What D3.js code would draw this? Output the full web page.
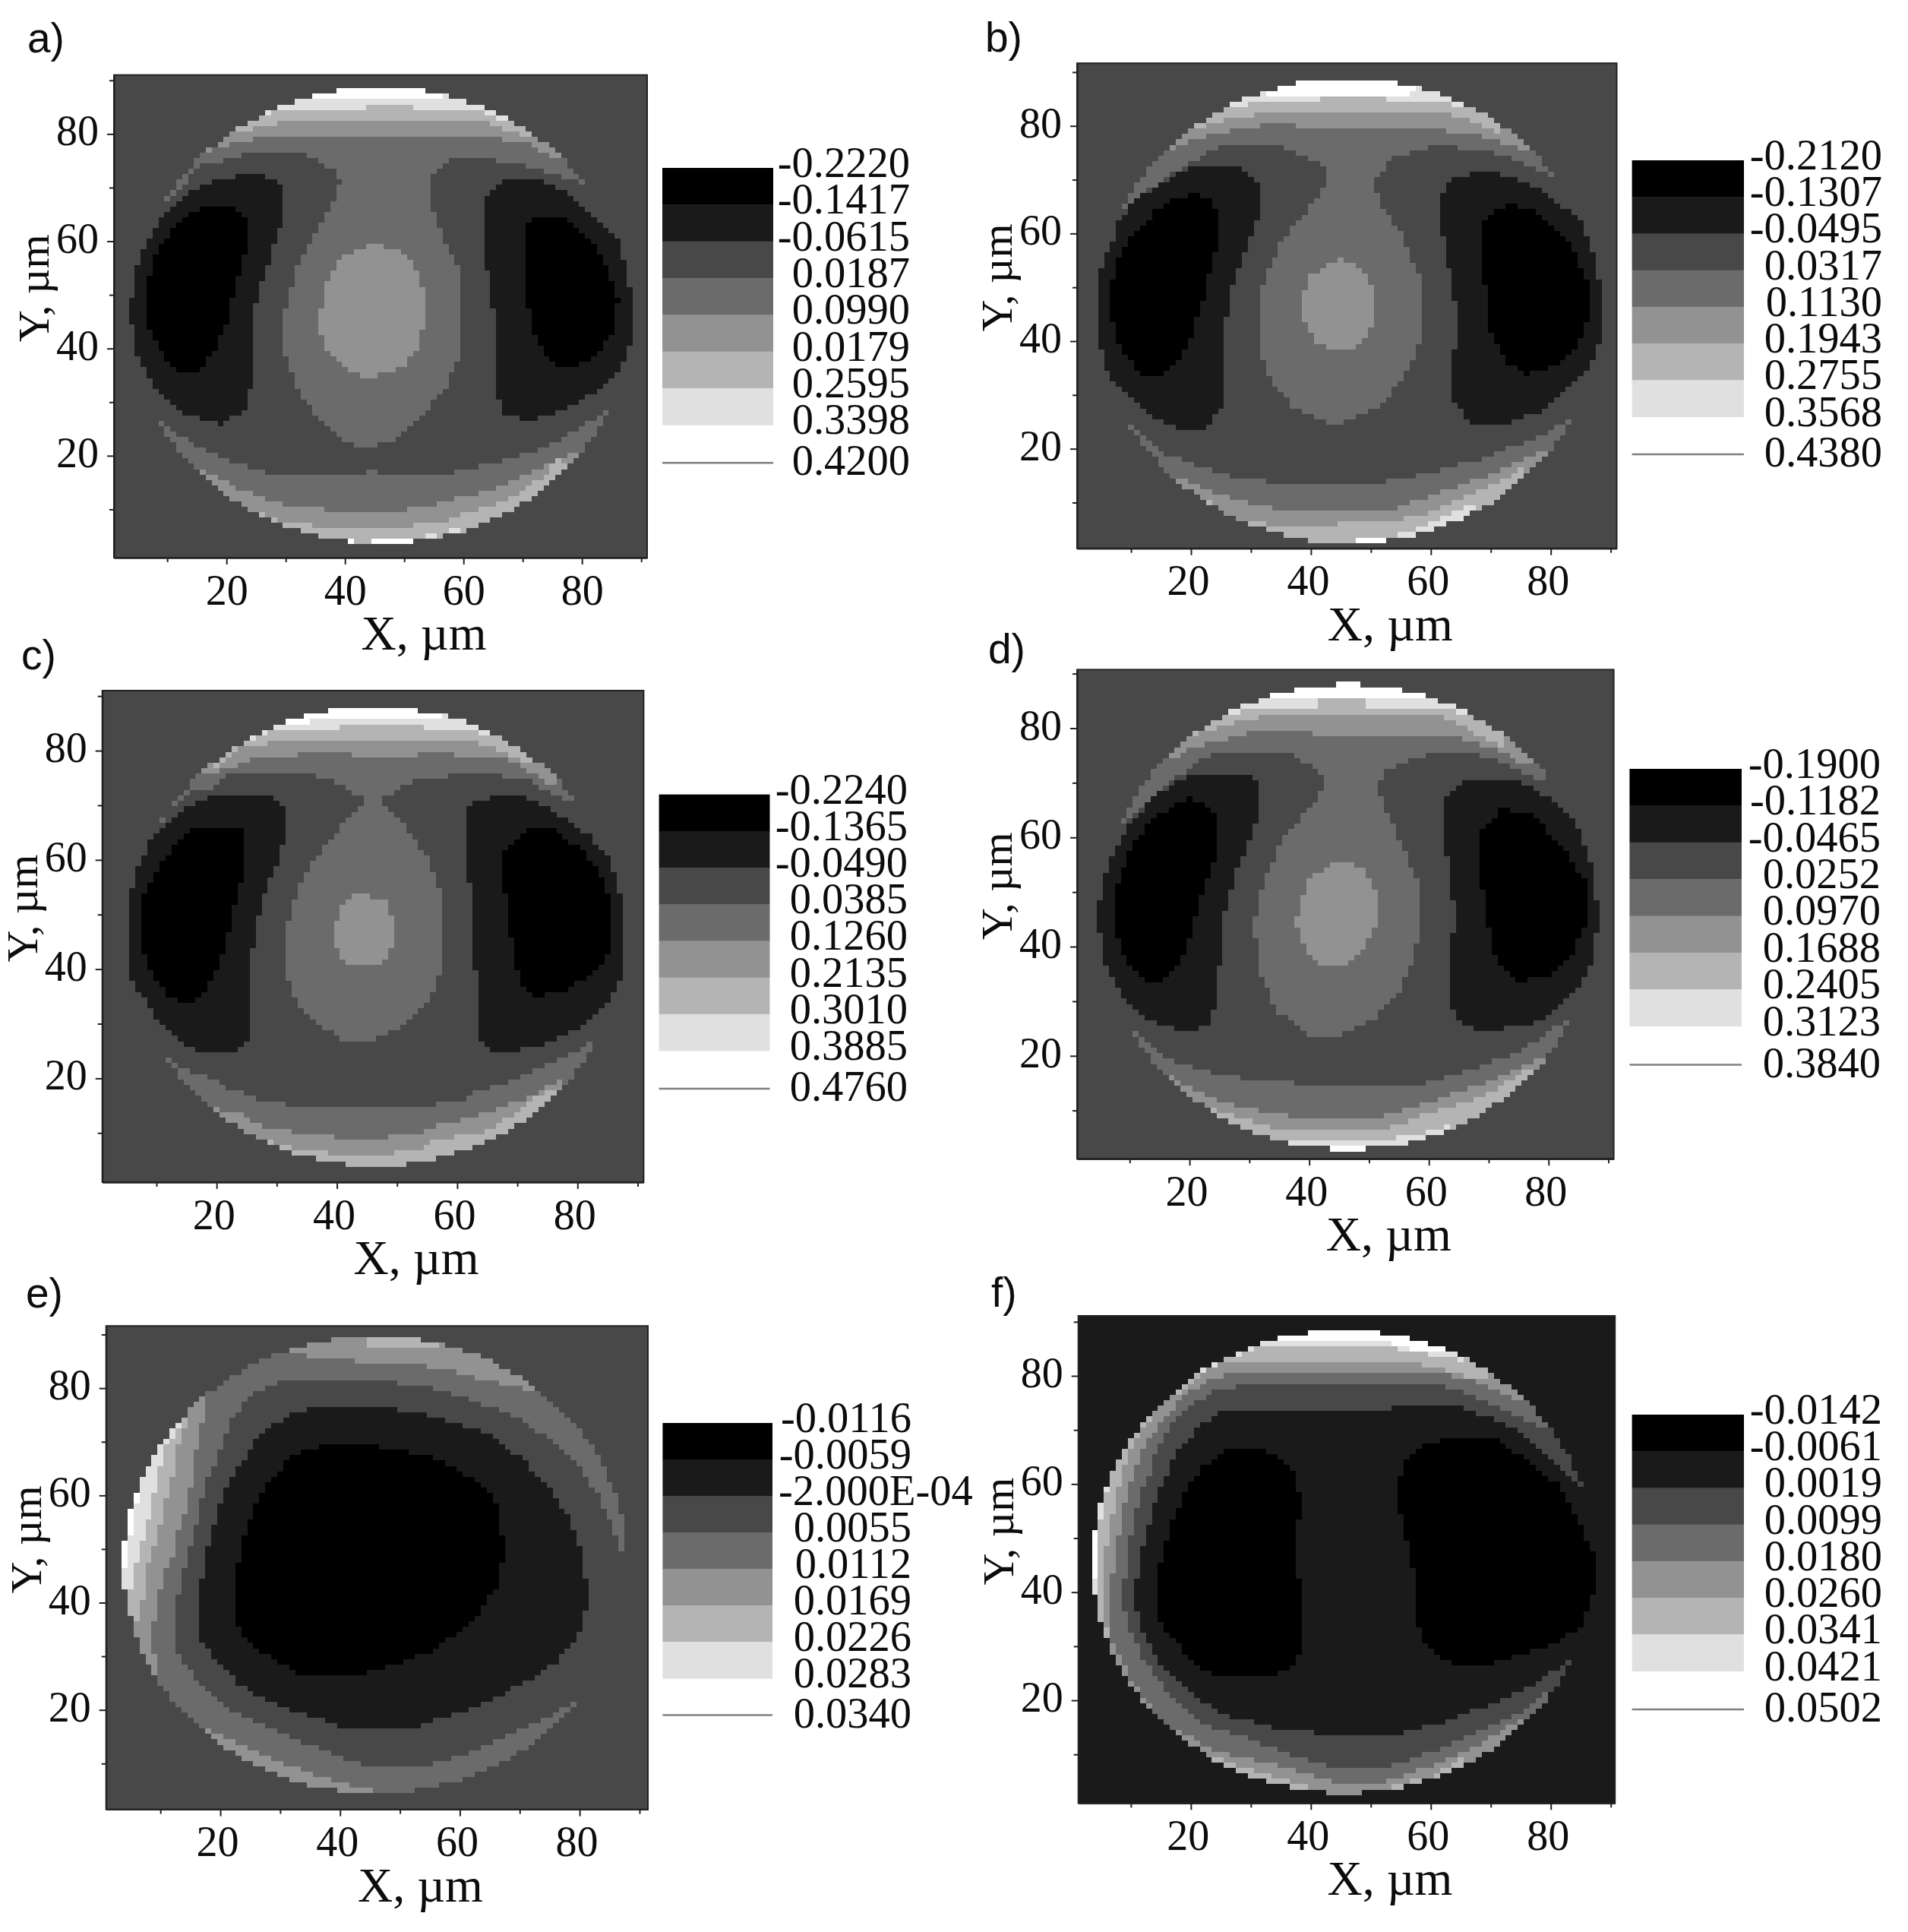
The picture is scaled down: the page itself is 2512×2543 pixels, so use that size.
<!DOCTYPE html>
<html>
<head>
<meta charset="utf-8">
<script src="https://cdn.jsdelivr.net/npm/d3@7"></script>
<style>
  body { margin: 0; background: white; }
  svg { filter: blur(0.6px); }
  text { font-family: "Liberation Serif", serif; fill: #0c0c0c; }
  .panel-label { font-family: "Liberation Sans", sans-serif; font-size: 55px; }
</style>
</head>
<body>
<div id="svgcontainer"></div>
<script>
// grey of each contour level, darkest first
var levelColors = ["#000000", "#1a1a1a", "#484848", "#6b6b6b", "#929292", "#b4b4b4", "#e0e0e0", "#ffffff"];

var panelLabels = ["a)", "b)", "c)", "d)", "e)", "f)"];
var xTicks = [20, 40, 60, 80];
var yTicks = [20, 40, 60, 80];
var minorTicks = [10, 30, 50, 70, 90];

var legendA = ["-0.2220", "-0.1417", "-0.0615", "0.0187", "0.0990", "0.0179", "0.2595", "0.3398", "0.4200"];
var legendB = ["-0.2120", "-0.1307", "-0.0495", "0.0317", "0.1130", "0.1943", "0.2755", "0.3568", "0.4380"];
var legendC = ["-0.2240", "-0.1365", "-0.0490", "0.0385", "0.1260", "0.2135", "0.3010", "0.3885", "0.4760"];
var legendD = ["-0.1900", "-0.1182", "-0.0465", "0.0252", "0.0970", "0.1688", "0.2405", "0.3123", "0.3840"];
var legendE = ["-0.0116", "-0.0059", "-2.000E-04", "0.0055", "0.0112", "0.0169", "0.0226", "0.0283", "0.0340"];
var legendF = ["-0.0142", "-0.0061", "0.0019", "0.0099", "0.0180", "0.0260", "0.0341", "0.0421", "0.0502"];

// sample disk of each panel: [cx, cy, rx, ry] in um
var diskA = [46.05, 46.1, 42.35, 42.5];
var diskB = [46.35, 45.7, 42.05, 43.2];
var diskC = [46.45, 46, 41.35, 42];
var diskD = [46.5, 45.45, 41.6, 42.6];
var diskE = [45.9, 47.1, 42.1, 42.6];
var diskF = [45.6, 45.65, 42, 42.75];

// contour regions, um, painted in this order: [level, outline]
// outlines may run past the disk, cells are cut at the disk edge
var bandsA = [
  [3, [[8.7,65.7],[15.5,73.9],[24.9,76.6],[32.1,76.6],[38.6,73.1],[39.3,70.8],[37.1,65.3],[33.5,59.1],[31.4,53.7],[29.6,45.9],[29.6,40.5],[31.4,33.5],[35,27.3],[40,22.6],[43.6,21.4],[47.9,22.6],[53,27.3],[56.9,32.7],[59.5,38.9],[59.5,54.5],[56.6,60.7],[54.4,67.7],[54.4,72.3],[58,75],[63.1,75.6],[71,73.9],[80.3,70.8],[90,78],[90,95],[2,95],[2,70]]],
  [4, [[15.5,76.2],[20.6,78.2],[27.8,79.7],[43.6,79.5],[63.1,79.7],[71,78.2],[76,75],[85,85],[85,95],[5,95],[5,85]]],
  [5, [[20.2,80.1],[27.1,81.7],[32.5,82.8],[62.3,82.8],[66.7,80.9],[71,79.7],[80,90],[80,95],[10,95],[10,90]]],
  [6, [[23.5,82.4],[27.8,84],[32.5,84.6],[43.5,84.6],[43.5,85.5],[51.5,85.5],[51.5,84.6],[62.3,84.6],[66.7,82.4],[72,92],[72,95],[15,95],[15,92]]],
  [7, [[31.4,86.1],[56.2,86.3],[60,92],[60,95],[28,95],[28,92]]],
  [3, [[8.7,26.5],[15.4,21.4],[19.5,19.5],[22.5,18.3],[26.4,17.3],[26.4,16.6],[43.3,16.6],[43.3,17.5],[45.4,17.5],[45.4,16.6],[58.5,16.6],[58.5,17.3],[64.2,18.3],[67.4,19.5],[70.4,20.4],[73.3,21.4],[75.4,22.5],[78.6,24.4],[84.3,28.4],[92,20],[92,-5],[0,-5],[0,20]]],
  [4, [[15.6,17.3],[19.5,15.7],[21.6,13.8],[24.6,13.2],[27.5,11.7],[30.5,10.5],[36.5,10.5],[36.5,9.5],[50.4,9.5],[50.4,10.5],[55.2,10.5],[55.2,11.4],[60.3,12.4],[63.5,13.3],[66.2,14.5],[70.4,16.4],[73.3,18],[76.3,19.5],[79,20.6],[88,12],[88,-5],[5,-5],[5,12]]],
  [5, [[23.7,10],[30.5,7.4],[34.6,7.4],[34.6,6.5],[51.4,6.5],[51.4,7.4],[57.3,7.4],[57.3,8.4],[60.3,9.3],[63.5,10.4],[66.2,11.4],[68.5,12.2],[73.3,16.2],[76.3,19.5],[85,12],[85,-5],[15,-5]]],
  [7, [[45,4.5],[52.6,4.5],[52.6,-5],[45,-5]]],
  [7, [[39.5,4.5],[41.6,4.5],[41.6,-5],[39.5,-5]]],
  [6, [[53.6,5.5],[55.6,5.5],[55.6,4.5],[53.6,4.5]]],
  [6, [[58,6.5],[60,6.5],[60,5.5],[58,5.5]]],
  [4, [[45.4,59.5],[50.1,57.6],[52.6,53.7],[53.6,47.5],[52.6,40.5],[50.1,36.6],[44.3,34.4],[39.3,36.6],[36.4,40.5],[35.6,45.1],[36.4,50.6],[38.6,56],[41.5,58.3]]],
  [1, [[9.4,65.3],[13.4,68.8],[18.4,71.6],[24.9,72.5],[28.5,71.6],[29.6,68.4],[29.6,64.6],[27.8,58.3],[25.6,51.3],[24.2,44.4],[24.5,36.6],[23.5,28.8],[19.1,25.7],[12.7,28],[7.6,32.7],[4.7,39.7],[3.7,46.7],[4.7,54.5],[6.5,59.9]]],
  [0, [[18.4,66.9],[21.3,66.5],[23.8,63.8],[23.1,58.3],[21.7,52.1],[19.9,44.4],[17.7,38.9],[15.2,35.8],[11.9,35.7],[9.1,38.9],[6.5,45.1],[6.5,52.1],[8.3,58.3],[11.2,62.6],[14.8,65.7]]],
  [1, [[63.4,68.4],[67.4,71.6],[72.4,71.6],[78.2,68.4],[83.2,63.7],[86.1,60.2],[87.5,55.2],[88.4,49],[88.4,39.6],[85.4,35],[81.1,31.1],[75.4,28],[70.4,26.5],[66.7,28],[65.6,32.7],[65.2,46.7],[63.4,58.3]]],
  [0, [[70.3,62.6],[72.4,64.6],[77.5,64.2],[81.1,60.7],[83.9,56],[86.1,49],[85.4,43.6],[81.8,38.1],[77.5,36.2],[73.9,38.1],[71.7,42.8],[70.3,52.1]]]
];

var bandsB = [
  [3, [[8,63.7],[15.5,70.3],[24.7,76.4],[34.7,76.5],[40.4,73.7],[42.5,71.5],[42.5,68.8],[39,63.5],[35.4,59],[33.3,54.4],[31.7,49.1],[31.5,37.8],[33.3,32.5],[36.8,28],[42.5,24.9],[45.3,24.9],[51,27.6],[55.3,32.5],[58.3,40.1],[58.3,51.4],[55.3,59.7],[51.7,65],[50.5,69.6],[53.5,74.1],[60.3,76.4],[68.8,75.6],[75.2,73.3],[80.2,70.5],[90,78],[90,95],[2,95],[2,70]]],
  [4, [[15.5,74.9],[20.5,77.5],[25.2,78.6],[33.3,80.5],[39.7,79.8],[53.5,79.8],[66.7,78.6],[71.6,77.1],[75.9,75.2],[85,85],[85,95],[5,95],[5,85]]],
  [5, [[19.4,79],[25.2,80.9],[33.3,82.6],[62.4,82.6],[66.7,80.8],[71.6,78.6],[80,90],[80,95],[10,95],[10,90]]],
  [6, [[23.3,82],[27.6,83.6],[33.3,84.7],[41.4,84.7],[41.4,85.8],[52.5,85.8],[52.5,84.7],[62.4,84.7],[66.7,82.8],[72,92],[72,95],[15,95],[15,92]]],
  [7, [[32.6,85.8],[56.4,85.8],[60,92],[60,95],[28,95],[28,92]]],
  [3, [[8.4,25.8],[15.5,18.9],[27.6,14.7],[34.7,13.6],[51,13.6],[59.6,15.5],[68.8,18.1],[78.8,22.7],[83.4,25.8],[92,18],[92,-5],[0,-5],[0,18]]],
  [4, [[15.5,15.6],[23.3,12.2],[27.6,10.6],[34.7,8.5],[53.5,8.5],[61.7,12.1],[71.6,15.9],[79.1,20],[88,12],[88,-5],[5,-5],[5,12]]],
  [5, [[20.5,11.9],[27.6,6.8],[35.4,5.6],[53.5,6.4],[58.9,7.9],[68.1,12.1],[75.2,16.2],[85,10],[85,-5],[10,-5],[10,10]]],
  [6, [[47.5,3.4],[53.5,3.8],[58.9,5.6],[66.7,9.4],[75,5],[75,-5],[47.5,-5]]],
  [7, [[47.5,3.4],[52.5,3.4],[52.5,-5],[47.5,-5]]],
  [4, [[45.3,55.2],[48.5,53.3],[50.5,49.1],[50.5,43.1],[48.2,39.3],[44.6,37.9],[41.4,39.3],[39.3,42.3],[38.4,46.1],[39.3,51.4],[41.8,53.7]]],
  [1, [[8,62.8],[11.9,67.3],[20.5,72.6],[28.3,72.6],[31.5,68.8],[31.5,64.3],[30.4,60.5],[27.9,53.7],[26.2,47.6],[25.4,36.3],[25.4,28],[22.3,23.8],[17.6,23.8],[11.9,27.2],[7,32.5],[5.2,37],[4.3,41.6],[4.3,51.4],[5.5,55.2],[7.3,59.7]]],
  [0, [[20.5,67.3],[23,66.2],[24.6,63.5],[24.4,58.2],[22.3,49.1],[20.5,42.3],[18.3,36.3],[14.8,33.6],[11.9,34],[9.1,37],[7.3,41.6],[6.3,47.6],[7.3,53.7],[9.8,59],[14.1,64.3],[17.6,66.5]]],
  [1, [[61.6,67.3],[63.8,70.3],[68.1,71.5],[73.8,70.7],[79.5,67.3],[85.2,62],[87.3,55.9],[88.4,51.4],[88.4,39.3],[85.2,33.3],[78.8,27.2],[73.1,24.9],[66.7,24.9],[63.7,28.7],[63.5,34.8],[64.5,43.1],[63.5,51.4],[61.6,61.2]]],
  [0, [[69.5,63.5],[73.1,65.4],[77.3,63.9],[83,58.2],[86.2,51.4],[86.6,44.6],[84.4,39.3],[80.9,35.5],[75.9,33.6],[72.4,36.3],[69.9,41.6],[69.2,49.1],[68.1,55.9],[68.4,61.2]]]
];

var bandsC = [
  [3, [[8.4,64],[14,71.1],[15.2,72],[17.6,73],[19.9,73.2],[21.9,75.3],[24.8,76.3],[36.3,76.3],[36.3,75.3],[39.5,75.3],[39.5,74.2],[41.5,73.2],[43.3,72],[45.1,70.7],[42.1,67.8],[38.6,63.2],[35,57.9],[33.2,53.3],[31.5,47.2],[31.5,39.5],[33.6,33.4],[37.1,29.6],[41.4,27],[46.4,27],[51.3,29.6],[55.6,35],[57.3,39.3],[57.3,54],[54.9,60.9],[51.3,66.3],[47.4,70.7],[48.3,71.8],[50.3,73.2],[52.3,74.2],[54.4,75.3],[58.2,75.3],[58.2,76.3],[67.9,76.3],[67.9,75.3],[71.7,75.3],[73.8,73.2],[75.8,72.2],[79,70.7],[90,78],[90,95],[2,95],[2,70]]],
  [4, [[15.8,75.1],[19.9,76],[23.7,77.2],[26.6,79],[33.4,79],[33.4,80.2],[42.4,80.2],[42.4,79.2],[53.2,79.2],[53.2,80.2],[59.1,80.2],[59.1,79.2],[67,79.2],[70.6,77.2],[73.8,75.1],[75.8,73.7],[85,85],[85,95],[5,95],[5,85]]],
  [5, [[19.9,77.2],[21.5,78.7],[23.7,80.2],[26.6,81.2],[30.7,81.4],[30.7,82.1],[63.2,82.1],[63.2,81.4],[67,80.2],[70.6,78.3],[72.6,77.2],[82,85],[82,95],[8,95],[8,85]]],
  [6, [[25.7,82.1],[27.8,83.2],[32.5,83.9],[40.2,83.9],[40.2,84.8],[54.4,84.8],[54.4,83.9],[62.3,83.9],[65.9,82.6],[72,90],[72,95],[18,95],[18,90]]],
  [7, [[31.6,85],[34.3,85],[36.3,85.84],[57.3,85.84],[62,90],[62,95],[25,95],[25,90]]],
  [3, [[9.5,26.6],[14,21.8],[17.2,20.8],[20.8,19],[22.8,17.8],[26.6,16.9],[26.6,15.8],[31.6,15.8],[31.6,14.8],[56.2,14.8],[56.2,15.8],[61.1,15.8],[61.1,16.9],[64.1,17.8],[67,18.8],[70,19.9],[73.8,21.8],[75.8,22.7],[82.5,26.7],[92,18],[92,-5],[0,-5],[0,18]]],
  [4, [[15.8,16.9],[20.8,13.9],[23.7,13.9],[25.7,11.8],[28.7,11.1],[32.5,10.2],[39.5,10.2],[39.5,9.3],[48.3,9.3],[48.3,10.2],[55,10.2],[55,11],[59.1,11.9],[62.3,13],[65.2,13.9],[70,15.7],[74,17.8],[77.1,19.7],[88,12],[88,-5],[5,-5],[5,12]]],
  [5, [[27.6,9],[32.5,7.3],[38.6,7.3],[38.6,6.2],[49.2,6.2],[49.2,7.2],[55,7.2],[55,8.1],[59.1,9.3],[65.2,10.4],[67,11.8],[70,13.7],[74.9,18],[85,12],[85,-5],[20,-5]]],
  [4, [[44.9,53.4],[48.1,52.5],[49.3,48.7],[49.3,44.1],[47.1,40.7],[41.4,40.7],[40.3,42.6],[39.5,46.4],[40.7,51],[42.5,53.3]]],
  [1, [[8.8,64],[13.8,68.6],[18,71.2],[22.3,72.2],[29.3,72],[31.1,70.1],[31.5,64.7],[30.4,60.2],[27.9,53.3],[26.5,47.2],[25.8,41.8],[25.5,27.3],[23,24.9],[17.3,24.9],[13.8,26.6],[9.5,31.9],[6,38],[5.1,40.3],[5.1,51.8],[6,56.3],[8.4,61.7]]],
  [0, [[16.6,66.3],[23.3,66.3],[25,64],[24.7,57.9],[22.6,50.2],[21.2,43.4],[18.7,36.5],[15.2,33.4],[12,35],[9.2,39.5],[7,45.7],[8.1,54.4],[11.3,60.2],[13.8,64]]],
  [1, [[61.2,67.8],[62.3,70.1],[66.9,72],[69.7,72],[75.4,69.3],[81.8,64.7],[85.3,60.2],[87.8,51],[87.8,39.5],[84.6,33.4],[79.7,28.9],[74,26.2],[69,24.9],[64.8,25.4],[63.4,27.3],[63,39.5],[62.3,54.8],[61.2,59.4]]],
  [0, [[69,63.2],[71.9,65.5],[76.1,65.5],[81.1,61.7],[84.6,55.6],[85.7,51],[85.7,44.9],[83.9,40.3],[78.9,36.5],[73.3,34.8],[71.2,36.5],[69.4,41.8],[68.7,48.7],[67.8,55.6],[68,61.7]]]
];

var bandsD = [
  [3, [[6.5,59.5],[15.7,69.6],[23.9,75.5],[36.4,75.7],[40.7,72.5],[42.7,70.7],[42.7,69.2],[39.2,64.4],[35.7,59.9],[33.9,55.4],[31.8,50.2],[30.7,44.2],[31.8,35.3],[34.3,28.6],[39.6,23.7],[45.3,23.7],[50.6,26.3],[54.9,31.6],[57.4,37.5],[58.3,42],[58.3,51.7],[55.6,58.4],[52.4,65.8],[51.7,69.6],[52.8,72.2],[57.8,74.8],[64.2,75.7],[69.9,74.8],[74.9,72.5],[79.7,69.9],[90,78],[90,95],[0,95],[0,65]]],
  [4, [[16.4,74],[20.7,76.6],[26.4,78.1],[32.1,80],[40.7,80],[40.7,78.7],[64.2,78.7],[67,77.4],[72.7,75.5],[76.3,72.9],[85,85],[85,95],[5,95],[5,85]]],
  [5, [[20,78.1],[25.7,80.7],[32.1,82.1],[62,82.1],[66.3,80],[72,76.6],[80,90],[80,95],[10,95],[10,90]]],
  [6, [[25.7,82.6],[32.1,83.4],[41.7,83.4],[41.7,85.1],[49.6,85.1],[49.6,83.9],[62,83.9],[67,82],[72,92],[72,95],[15,95],[15,92]]],
  [7, [[32.1,85.1],[35.7,86],[56.3,86],[60.6,85.2],[65,90],[65,95],[25,95],[25,90]]],
  [3, [[9.3,25.8],[15,20.4],[21.4,17.4],[28.9,15.9],[38.9,14.8],[58.5,14.8],[69.2,18.2],[75.6,21.1],[82.7,26.5],[92,18],[92,-5],[0,-5],[0,18]]],
  [4, [[15,17.4],[20.7,13.7],[27.8,10.7],[37.8,8.8],[51.4,8.8],[58.5,11.1],[69.2,14.8],[79.2,19.6],[88,12],[88,-5],[5,-5],[5,12]]],
  [5, [[21.4,11.4],[27.8,8.8],[36.7,6.2],[52.4,6.6],[59.2,9.2],[69.2,12.5],[77,17.8],[85,10],[85,-5],[10,-5],[10,10]]],
  [6, [[33,5],[38,4.6],[53,4.8],[58,5.5],[63,7.3],[72,0],[72,-5],[25,-5]]],
  [7, [[40,3.8],[52.4,3.8],[52.4,-5],[40,-5]]],
  [4, [[45.7,55.8],[49.2,53.9],[51.4,49.4],[51.4,44.2],[49.2,39.8],[46.4,36.9],[42.1,36.9],[40,39],[38.5,42],[37.7,44.6],[38.7,48.7],[40,52.1],[42.8,54.7]]],
  [1, [[10,62.9],[15,68.1],[20.7,71.8],[29.3,71.8],[31.8,69.2],[31.8,65.1],[30,59.1],[27.8,53.9],[26.4,48.7],[25.3,41.3],[24.6,30.8],[23.6,26.3],[21.4,25],[17.1,25],[12.2,27.1],[7.9,32.3],[5.7,37.5],[4.9,40.5],[4.9,50.2],[6.5,55.4]]],
  [0, [[20,67.2],[22.9,65.8],[24.8,62.9],[24.3,56.2],[22.5,51.7],[20.7,44.2],[18.6,37.5],[15.7,33.8],[12.9,34],[10,36.8],[7.9,41.3],[7.9,50.9],[10,57.6],[13.6,62.9],[17.1,65.8]]],
  [1, [[62.6,66.6],[65.6,70.7],[74.2,70.7],[79.9,67.3],[85.6,61.4],[88.1,51.7],[88.1,39],[84.9,32.3],[78.4,26.3],[72,24.9],[68.8,24.1],[64.2,27.1],[63.5,32.3],[64.2,47.2],[63.5,53.2],[62.6,58.4]]],
  [0, [[69.5,62.1],[72,65.1],[77,64.7],[82.7,57.6],[86.3,51.7],[86.3,44.2],[83.4,37.5],[79.2,34.2],[74.2,33.8],[71.3,37.5],[70.3,41.3],[69.2,49.4],[68.3,54.7],[68.3,59.9]]]
];

var bandsE = [
  [3, [[87.8,46.4],[86,52.6],[83.6,58.9],[80.7,64.3],[75.7,69.7],[70,74.4],[61.5,77.9],[54.4,80.5],[42.3,81.7],[31.6,81.7],[25.7,79.3],[22.5,75.3],[20.8,71.5],[19.8,67.8],[17.9,63],[16.8,58.3],[15.8,53.6],[13.9,46.5],[12.7,40],[12.7,30.9],[16.7,24.7],[21.6,20],[28.8,16.1],[38,12.2],[44.4,9.5],[54.4,9.5],[61.5,11.9],[68.6,15.4],[75.7,19.2],[80,22.3],[92,10],[92,-5],[-5,-5],[-5,95],[95,95],[95,46]]],
  [4, [[31.6,87],[34.4,85.9],[42.3,85.9],[42.3,84.7],[51.5,84.7],[60.8,82.6],[67.9,80.6],[71.8,79.7],[80,90],[80,95],[25,95],[25,90]]],
  [5, [[44.4,87.6],[52.2,87.6],[56,87],[60,92],[60,95],[44.4,95]]],
  [4, [[17.9,77.7],[17.9,74.1],[16.8,73.4],[16.8,69.7],[15.8,68.5],[15.8,64.5],[14.9,60.7],[13.9,56.4],[12.8,52.7],[11.8,47.9],[10.7,46.5],[9,36.3],[8.8,30.9],[9.9,27],[0,20],[-5,50],[5,85]]],
  [5, [[14.9,75.6],[13.9,72.5],[12.8,68.5],[11.8,62.3],[10.9,58.6],[9.8,53.6],[8.8,49.3],[7.7,46.5],[7.3,43],[6.7,37],[-5,36],[-5,80],[8,85]]],
  [6, [[13.7,73.2],[11.8,70.4],[10.7,68.5],[9.9,64.5],[8.8,59.5],[7.7,54.5],[6.9,50.8],[5.8,46.5],[5.2,44],[4.6,40.6],[-5,40],[-5,80],[8,82]]],
  [7, [[10.7,70.4],[10.1,69.6],[7.9,65.4],[6.9,63],[5.8,57.4],[4.8,50.8],[4.8,46.5],[-5,46],[-5,75],[5,78]]],
  [4, [[15.9,17.3],[23.1,13.8],[29.5,10.7],[35.9,7.6],[45.5,4.9],[45.5,-5],[5,-5],[5,17]]],
  [1, [[37.8,76.5],[45.8,76.6],[54.4,75.2],[63.6,72.1],[70.7,66.6],[75.7,60.4],[78.6,55],[80.4,49.5],[81.1,44.1],[81.1,38.7],[80,34],[75.7,28.6],[71.5,25.5],[63.6,20.8],[54.4,17.7],[52.2,16.5],[40.9,16.5],[35.9,18.5],[29.5,20.8],[23.1,24.7],[18.1,30.9],[16.7,33.2],[17,44.9],[18.7,53.6],[19.8,58.3],[21.7,63],[24.6,67.8],[27.2,72],[32.5,75.6]]],
  [0, [[38.6,69.65],[49.4,68.8],[56.5,66.6],[62.9,62.8],[66.5,58.1],[67.3,49.5],[66.3,43.3],[62.2,36.3],[55.1,30.9],[47.3,27.8],[41.6,26.4],[33.7,26.4],[26.6,30.9],[23.4,34],[22.3,38.7],[22.5,44.9],[24.2,53.6],[25.9,58.3],[28.5,63],[32.5,67.8]]]
];

var bandsF = [
  [2, [[86.2,58.2],[79.5,65.5],[74.5,70.1],[65.3,74.2],[53.5,74.2],[53.5,73.2],[39.2,73.2],[39.2,74],[27.4,74],[24.5,73.1],[21.5,70.7],[18.8,67.5],[16.7,63.7],[14.8,59],[13.7,56.2],[12.7,51.6],[11.6,47.3],[10.5,39.2],[11.6,33.2],[14.1,27.9],[19.1,22.2],[25.5,17.3],[33.3,15.1],[40.4,14],[55.3,14],[61.7,15.8],[68.8,18.9],[75.9,22.2],[84,27.9],[92,20],[92,-5],[-5,-5],[-5,95],[95,95],[95,60]]],
  [3, [[80.2,70.2],[75.9,71.6],[70.2,74.6],[65.3,77],[61.4,78.3],[27.4,78],[23.4,77.1],[19.8,74],[16.7,71.2],[14.6,67],[12.7,60.9],[11.6,58.1],[10.6,53.4],[9.5,47.3],[8.6,39.2],[9.5,33.2],[12,27.9],[16.2,21.5],[21.9,15.8],[29.7,12.8],[35.4,10.5],[42.5,7.9],[53.2,7.9],[60.3,10.6],[67.4,14],[74.5,17.3],[79.5,21.5],[88,12],[88,-5],[-5,-5],[-5,95],[90,95],[90,75]]],
  [4, [[75.9,75],[71,77.2],[65.3,79.8],[52.5,81],[28.5,81],[22.4,79.2],[18.6,75.9],[15.6,72.2],[12.7,67.9],[10.6,62.3],[9.5,58.6],[8.7,54.8],[7.6,47.3],[6.3,39.2],[7,30.9],[9.8,24.1],[15.5,15.8],[23.3,11],[34.7,7.9],[43.6,4.9],[52.5,4.9],[60.3,7.9],[67.4,11.3],[71.7,14.3],[75.9,17],[85,8],[85,-5],[-5,-5],[-5,95],[85,95],[85,85]]],
  [5, [[68.8,79.1],[57.5,82.3],[52.5,83],[27.6,82.9],[23.4,81.8],[21.1,79.2],[16.5,75.7],[13.5,72.6],[10.6,68.4],[8.7,62.3],[7.6,58.1],[6.8,53],[5.7,47.3],[5.2,40],[6.6,29.4],[-5,25],[-5,95],[75,95],[75,85]]],
  [5, [[23.3,10.2],[29.7,7.2],[35.8,5.3],[40,3.8],[40,-5],[15,-5]]],
  [5, [[53.5,4.2],[60.3,6],[65.3,9.4],[72,5],[72,-5],[53.5,-5]]],
  [6, [[65.3,82.9],[62.4,83.2],[57.5,84.4],[52.5,85.3],[31.7,85.3],[25.7,82.9],[20.7,80.1],[18.6,78.2],[15.6,75.4],[12.7,72.2],[10.6,68.9],[8.7,66.1],[6.8,61.9],[5.5,56.2],[4.4,50.2],[4.4,42],[4.9,36.2],[-5,30],[-5,95],[70,95],[70,90]]],
  [7, [[33,86.2],[52.5,86.2],[56,85.1],[62.4,84.4],[68,88],[68,95],[28,95],[28,88]]],
  [7, [[4.2,52],[4.2,43],[-5,43],[-5,52]]],
  [0, [[25.3,66.1],[32.7,66.1],[34.6,65.1],[37.6,62.3],[37.6,59],[38.4,59],[38.4,53.9],[37.6,53.9],[37.6,43],[38.6,42.2],[38.6,29.4],[36.8,26],[32.6,24.1],[24,24.1],[19.8,27.9],[15.5,33.2],[14.5,36.2],[14.5,43],[15.5,48.2],[16.7,52],[17.5,54.8],[18.6,57.2],[19.6,59.5],[21.5,62.8],[24.5,65.1]]],
  [0, [[62.4,68.3],[71,68.3],[76.6,64],[81.6,59.5],[85.2,52],[87.4,46],[87.4,40.7],[85.2,33.9],[81.6,30.9],[75.9,28.6],[66.7,26],[62.4,27.5],[58.9,30.2],[57.5,34.7],[57.5,42.9],[56.4,47.5],[55.3,53.5],[54.4,58],[55.3,63.3],[58.9,67]]]
];

// axis ranges of each panel, um
var xDomains = [[1, 91], [1, 91], [1, 91], [1.2, 90.9], [0.93, 91.4], [1.24, 90.7]];
var yDomains = [[1, 91], [1.5, 91.65], [1, 91], [1.16, 90.73], [1.45, 91.6], [1, 91.1]];

// page layout, pixels
var frames = [
  {left: 150, right: 852, top: 98.7, bottom: 734, yPhase: 0, labelShift: 0},
  {left: 1418, right: 2128.5, top: 83.2, bottom: 721.7, yPhase: 0, labelShift: -4},
  {left: 134.7, right: 847.4, top: 909, bottom: 1556, yPhase: 0.3, labelShift: -4},
  {left: 1418, right: 2124.6, top: 881.4, bottom: 1525.2, yPhase: 0, labelShift: -4},
  {left: 139.7, right: 853, top: 1745.3, bottom: 2381.6, yPhase: 0, labelShift: -4},
  {left: 1419.7, right: 2126.2, top: 1732, bottom: 2373.3, yPhase: 0, labelShift: -4}
];
var legendBoxes = [
  {left: 872, right: 1018, top: 221, bottom: 559.3, line: 609.3, labelX: 1198},
  {left: 2148.6, right: 2296, top: 211, bottom: 548.5, line: 598, labelX: 2478},
  {left: 867.6, right: 1013.5, top: 1045.7, bottom: 1383, line: 1433, labelX: 1195},
  {left: 2145.4, right: 2293, top: 1012, bottom: 1350.6, line: 1401.5, labelX: 2476},
  {left: 872.4, right: 1017, top: 1873, bottom: 2209, line: 2257.5, labelX: 1200},
  {left: 2148.6, right: 2296, top: 1862, bottom: 2199.5, line: 2250, labelX: 2478}
];
var labelSpots = [[36, 69], [1297, 68], [28, 881], [1301, 873], [34, 1721], [1305, 1720]];

var panelBands = [bandsA, bandsB, bandsC, bandsD, bandsE, bandsF];
var panelDisks = [diskA, diskB, diskC, diskD, diskE, diskF];
var panelLegends = [legendA, legendB, legendC, legendD, legendE, legendF];
var backgroundLevels = [2, 2, 2, 2, 2, 1];

var svg = d3.select("#svgcontainer")
            .append("svg")
            .attr("width", 2512)
            .attr("height", 2543)
            .style("display", "block");

for (var i = 0; i < 6; i++) {
    drawPanel(i);
    drawLegend(i);
}

function drawPanel(i) {
    var f = frames[i];
    var xs = d3.scaleLinear().domain(xDomains[i]).range([f.left, f.right]);
    var ys = d3.scaleLinear().domain(yDomains[i]).range([f.bottom, f.top]);
    var g = svg.append("g");

    g.append("clipPath").attr("id", "frame" + i)
        .append("rect")
        .attr("x", f.left).attr("y", f.top)
        .attr("width", f.right - f.left).attr("height", f.bottom - f.top);

    g.append("rect")
        .attr("x", f.left).attr("y", f.top)
        .attr("width", f.right - f.left).attr("height", f.bottom - f.top)
        .attr("fill", levelColors[backgroundLevels[i]]);

    drawCells(g.append("g").attr("clip-path", "url(#frame" + i + ")"), i, xs, ys);

    // frame on top of the cells
    g.append("rect")
        .attr("x", f.left).attr("y", f.top)
        .attr("width", f.right - f.left).attr("height", f.bottom - f.top)
        .attr("fill", "none")
        .attr("stroke", "#222")
        .attr("stroke-width", 2);

    // axes: long ticks with labels, short ticks without
    var xMajor = d3.axisBottom(xs).tickValues(xTicks).tickSize(9).tickSizeOuter(0).tickPadding(13).tickFormat(d3.format("d"));
    var xMinor = d3.axisBottom(xs).tickValues(minorTicks).tickSize(6).tickSizeOuter(0).tickFormat("");
    var yMajor = d3.axisLeft(ys).tickValues(yTicks).tickSize(9).tickSizeOuter(0).tickPadding(11).tickFormat(d3.format("d"));
    var yMinor = d3.axisLeft(ys).tickValues(minorTicks).tickSize(6).tickSizeOuter(0).tickFormat("");

    [[xMajor, "translate(0," + f.bottom + ")", f.labelShift], [xMinor, "translate(0," + f.bottom + ")", 0],
     [yMajor, "translate(" + f.left + ",0)", 0], [yMinor, "translate(" + f.left + ",0)", 0]].forEach(function(a) {
        var ax = g.append("g").attr("transform", a[1]).call(a[0]);
        ax.select(".domain").attr("stroke", "#222").attr("stroke-width", 2);
        ax.selectAll("line").attr("stroke", "#222").attr("stroke-width", 2);
        ax.selectAll("text").attr("font-size", 56).attr("font-family", "Liberation Serif").attr("fill", "#0c0c0c");
        if (a[2] != 0) ax.selectAll("text").attr("dx", a[2]);
    });
    g.selectAll(".tick text").filter(function() { return d3.select(this).attr("x") != null && d3.select(this).attr("x") < 0; }).attr("dy", "0.26em");

    g.append("text")
        .attr("x", (f.left + f.right) / 2 + 57)
        .attr("y", f.bottom + 121)
        .attr("text-anchor", "middle")
        .attr("font-size", 64)
        .text("X, µm");

    g.append("text")
        .attr("transform", "translate(" + (f.left - 86) + "," + ((f.top + f.bottom) / 2 - 37) + ") rotate(-90)")
        .attr("text-anchor", "middle")
        .attr("font-size", 58)
        .text("Y, µm");

    g.append("text")
        .attr("class", "panel-label")
        .attr("x", labelSpots[i][0])
        .attr("y", labelSpots[i][1])
        .text(panelLabels[i]);
}

// the plot was made on a 1 um grid: test each grid cell against the regions, merge runs in a row
function drawCells(g, i, xs, ys) {
    var disk = panelDisks[i];
    var bands = panelBands[i];
    var phase = frames[i].yPhase;

    for (var row = 0; row <= 92; row++) {
        var y = row + phase;
        var runStart = null, runLevel = null;
        for (var col = 0; col <= 93; col++) {
            var level = cellLevel(col, y, disk, bands);
            if (level !== runLevel) {
                if (runLevel !== null) {
                    addRun(g, runStart, col - 1, y, runLevel, xs, ys);
                }
                runStart = col;
                runLevel = level;
            }
        }
    }
}

function cellLevel(x, y, disk, bands) {
    var dx = (x - disk[0]) / disk[2];
    var dy = (y - disk[1]) / disk[3];
    if (dx * dx + dy * dy > 1) return null;
    var level = null;
    bands.forEach(function(b) {
        if (d3.polygonContains(b[1], [x, y])) level = b[0];
    });
    return level;
}

function addRun(g, c0, c1, y, level, xs, ys) {
    var x0 = Math.round(xs(c0 - 0.5)), x1 = Math.round(xs(c1 + 0.5));
    var y0 = Math.round(ys(y + 0.5)), y1 = Math.round(ys(y - 0.5));
    g.append("rect")
        .attr("x", x0).attr("y", y0)
        .attr("width", x1 - x0).attr("height", y1 - y0)
        .attr("fill", levelColors[level])
        .attr("shape-rendering", "crispEdges");
}

function drawLegend(i) {
    var box = legendBoxes[i];
    var labels = panelLegends[i];
    var edge = d3.scaleLinear().domain([0, 7]).range([box.top, box.bottom]);
    var g = svg.append("g");

    // seven filled swatches, the last level only shows as a line
    g.selectAll("rect")
        .data(d3.range(7))
        .enter()
        .append("rect")
        .attr("x", box.left)
        .attr("y", function(d) { return edge(d); })
        .attr("width", box.right - box.left)
        .attr("height", function(d) { return edge(d + 1) - edge(d) + 0.5; })
        .attr("fill", function(d) { return levelColors[d]; });

    g.append("line")
        .attr("x1", box.left).attr("x2", box.right)
        .attr("y1", box.line).attr("y2", box.line)
        .attr("stroke", "#808080")
        .attr("stroke-width", 2.5);

    g.selectAll("text")
        .data(labels)
        .enter()
        .append("text")
        .attr("x", function(d) { return d.length > 8 ? box.labelX - 175 : box.labelX; })
        .attr("y", function(d, n) { return n < 8 ? edge(n) + 12 : box.line + 16; })
        .attr("text-anchor", function(d) { return d.length > 8 ? "start" : "end"; })
        .attr("font-size", 56.5)
        .text(function(d) { return d; });
}
</script>
</body>
</html>
